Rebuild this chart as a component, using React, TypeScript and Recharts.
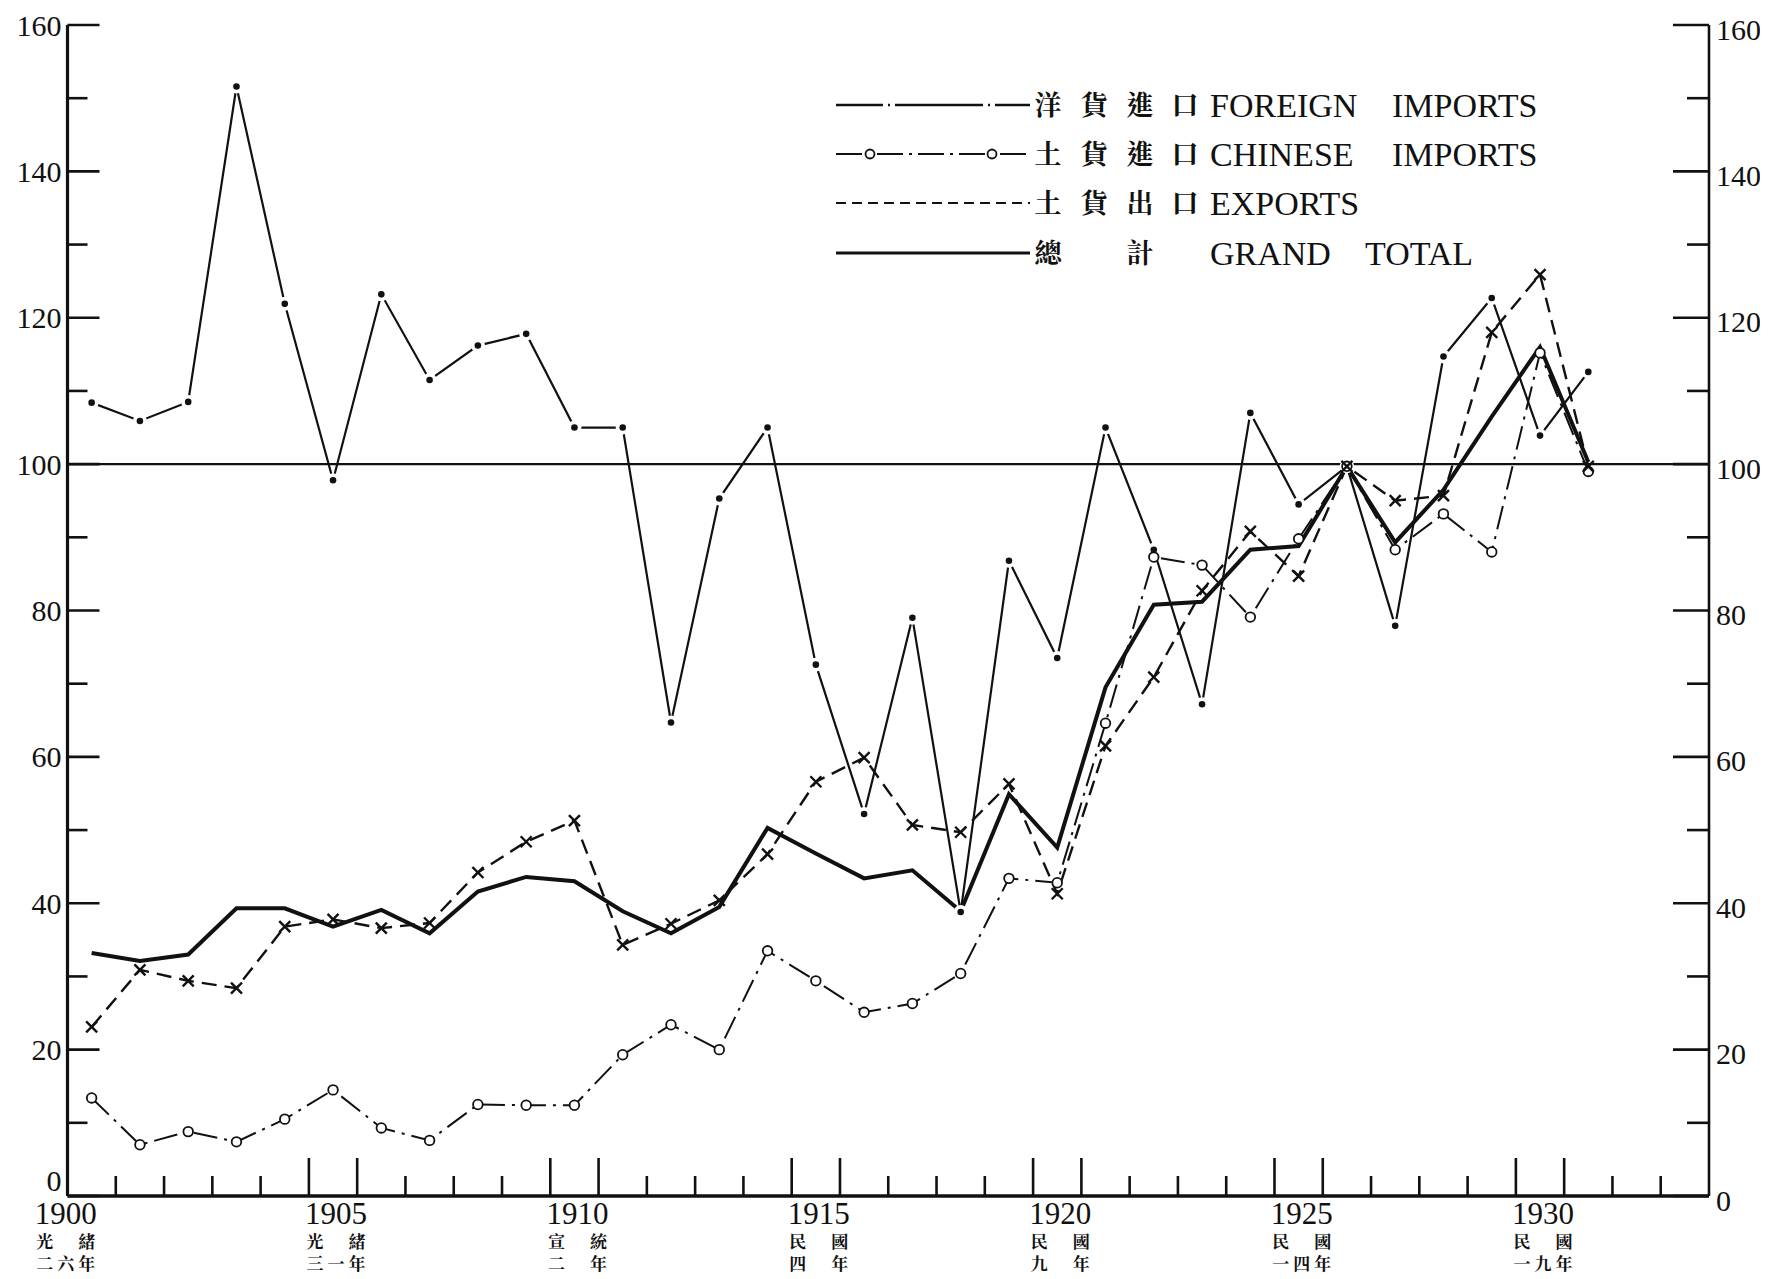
import React from 'react';
import { LineChart, Line, XAxis, YAxis, ReferenceLine, Legend } from 'recharts';

const years = [1900, 1901, 1902, 1903, 1904, 1905, 1906, 1907, 1908, 1909, 1910, 1911, 1912, 1913, 1914, 1915, 1916, 1917, 1918, 1919, 1920, 1921, 1922, 1923, 1924, 1925, 1926, 1927, 1928, 1929, 1930, 1931];
const foreignImports = [108.4, 105.9, 108.5, 151.6, 121.9, 97.8, 123.2, 111.5, 116.2, 117.8, 105.0, 105.0, 64.7, 95.3, 105.0, 72.6, 52.2, 79.0, 38.8, 86.8, 73.5, 105.0, 88.3, 67.2, 107.0, 94.5, 99.7, 77.9, 114.7, 122.7, 103.9, 112.6];
const chineseImports = [13.4, 7.0, 8.8, 7.4, 10.5, 14.5, 9.3, 7.6, 12.5, 12.4, 12.4, 19.3, 23.4, 20.0, 33.5, 29.4, 25.1, 26.3, 30.4, 43.4, 42.8, 64.6, 87.3, 86.2, 79.1, 89.8, 99.7, 88.3, 93.2, 88.0, 115.2, 99.0];
const chineseExports = [23.1, 30.9, 29.4, 28.4, 36.8, 37.8, 36.6, 37.3, 44.2, 48.4, 51.3, 34.3, 37.2, 40.4, 46.7, 56.6, 59.9, 50.7, 49.7, 56.3, 41.3, 61.5, 70.9, 82.7, 90.8, 84.7, 99.7, 95.0, 95.7, 118.0, 125.9, 99.7];
const grandTotal = [33.2, 32.1, 33.0, 39.3, 39.3, 36.8, 39.1, 35.9, 41.6, 43.6, 43.0, 38.9, 35.9, 39.5, 50.3, 46.8, 43.4, 44.5, 38.9, 54.9, 47.6, 69.5, 80.8, 81.2, 88.3, 88.8, 99.7, 89.3, 96.5, 106.5, 116.0, 100.3];

const boundaryTicks = [1900.5, 1901.5, 1902.5, 1903.5, 1904.5, 1905.5, 1906.5, 1907.5, 1908.5, 1909.5, 1910.5, 1911.5, 1912.5, 1913.5, 1914.5, 1915.5, 1916.5, 1917.5, 1918.5, 1919.5, 1920.5, 1921.5, 1922.5, 1923.5, 1924.5, 1925.5, 1926.5, 1927.5, 1928.5, 1929.5, 1930.5, 1931.5, 1932.5];
const majorBoundaries = [1904.5, 1905.5, 1909.5, 1910.5, 1914.5, 1915.5, 1919.5, 1920.5, 1924.5, 1925.5, 1929.5, 1930.5];
const labelYears = [1900, 1905, 1910, 1915, 1920, 1925, 1930];
const reignNames = ['光緒', '光緒', '宣統', '民國', '民國', '民國', '民國'];
const reignYears = ['二六年', '三一年', '二年', '四年', '九年', '一四年', '一九年'];
const yTicks = [0, 10, 20, 30, 40, 50, 60, 70, 80, 90, 100, 110, 120, 130, 140, 150, 160];

const legendCn = [['洋', '貨', '進', '口'], ['土', '貨', '進', '口'], ['土', '貨', '出', '口'], ['總', '', '計', '']];
const legendEn = [['FOREIGN', 'IMPORTS'], ['CHINESE', 'IMPORTS'], ['EXPORTS', ''], ['GRAND', 'TOTAL']];

const data = years.map((year, i) => ({
  year,
  fi: foreignImports[i],
  ci: chineseImports[i],
  ex: chineseExports[i],
  gt: grandTotal[i],
}));

const SERIF = "'Liberation Serif', 'Tinos', 'Times New Roman', serif";
const CJK = "'Noto Serif CJK TC', 'Noto Sans CJK TC', serif";
const INK = '#111';

const serifStyle: React.CSSProperties = { fontFamily: SERIF };
const cjkStyle: React.CSSProperties = { fontFamily: CJK, fontWeight: 700 };

const W = 1752;
const H = 1271;

const BottomTick = (props: any) => {
  const { x, y, payload } = props;
  const v = payload.value;
  const li = labelYears.indexOf(v);
  if (li >= 0) {
    const cx = li === 0 ? x - 26 : x + 3;
    const r1 = reignNames[li].split('');
    const r2 = reignYears[li].split('');
    const off2 = r2.length === 3 ? [-21, 0, 21] : [-21, 21];
    return (
      <g>
        <text x={cx} y={y + 28} textAnchor="middle" style={serifStyle} fontSize={31} fill={INK}>{v}</text>
        {r1.map((c, i) => (
          <text key={'a' + i} x={cx + (i === 0 ? -21 : 21)} y={y + 52} textAnchor="middle" style={cjkStyle} fontSize={17} fill={INK}>{c}</text>
        ))}
        {r2.map((c, i) => (
          <text key={'b' + i} x={cx + off2[i]} y={y + 74} textAnchor="middle" style={cjkStyle} fontSize={17} fill={INK}>{c}</text>
        ))}
      </g>
    );
  }
  const len = majorBoundaries.indexOf(v) >= 0 ? 38 : 20;
  return <line x1={x} x2={x} y1={y} y2={y - len} stroke={INK} strokeWidth={2.6} />;
};

const TopTick = (props: any) => {
  const { x, y, payload } = props;
  const len = majorBoundaries.indexOf(payload.value) >= 0 ? 45 : 24;
  return <line x1={x} x2={x} y1={y} y2={y + len} stroke={INK} strokeWidth={2.6} />;
};

const LeftTick = (props: any) => {
  const { x, y, payload } = props;
  const v = payload.value;
  const major = v % 20 === 0;
  return (
    <g>
      <line x1={x} x2={x + (major ? 32 : 20)} y1={y} y2={y} stroke={INK} strokeWidth={2.6} />
      {major && (
        <text x={x - 6} y={y + (v === 0 ? -16 : 0)} dy="0.35em" textAnchor="end" style={serifStyle} fontSize={30} fill={INK}>{v}</text>
      )}
    </g>
  );
};

const RightTick = (props: any) => {
  const { x, y, payload } = props;
  const v = payload.value;
  const major = v % 20 === 0;
  return (
    <g>
      <line x1={x} x2={x - (major ? 36 : 22)} y1={y} y2={y} stroke={INK} strokeWidth={2.6} />
      {major && (
        <text x={x + 7} y={y + 4} dy="0.35em" textAnchor="start" style={serifStyle} fontSize={30} fill={INK}>{v}</text>
      )}
    </g>
  );
};

const fiDot = (props: any) => {
  const { cx, cy, index } = props;
  if (cx == null || cy == null) return <g key={'fi' + index} />;
  return (
    <g key={'fi' + index}>
      <circle cx={cx} cy={cy} r={7} fill="#fff" />
      <circle cx={cx} cy={cy} r={3.3} fill={INK} />
    </g>
  );
};

const ciDot = (props: any) => {
  const { cx, cy, index } = props;
  if (cx == null || cy == null) return <g key={'ci' + index} />;
  return <circle key={'ci' + index} cx={cx} cy={cy} r={4.8} fill="#fff" stroke={INK} strokeWidth={1.8} />;
};

const exDot = (props: any) => {
  const { cx, cy, index } = props;
  if (cx == null || cy == null) return <g key={'ex' + index} />;
  const s = 5.5;
  return (
    <g key={'ex' + index}>
      <line x1={cx - s} y1={cy - s} x2={cx + s} y2={cy + s} stroke={INK} strokeWidth={2.4} />
      <line x1={cx - s} y1={cy + s} x2={cx + s} y2={cy - s} stroke={INK} strokeWidth={2.4} />
    </g>
  );
};

const rowY = [97, 146, 195, 245];
const cnX = [1040, 1086, 1132, 1177];

const LegendGraphic = () => (
  <svg width={W} height={280} style={{ display: 'block' }}>
    <line x1={828} x2={1022} y1={rowY[0]} y2={rowY[0]} stroke={INK} strokeWidth={2.4} strokeDasharray="47 5 2 5 88 5 2 5 40" />
    <line x1={828} x2={1022} y1={rowY[1]} y2={rowY[1]} stroke={INK} strokeWidth={2} strokeDasharray="26 6 3 6" />
    <circle cx={862} cy={rowY[1]} r={4.5} fill="#fff" stroke={INK} strokeWidth={1.8} />
    <circle cx={984} cy={rowY[1]} r={4.5} fill="#fff" stroke={INK} strokeWidth={1.8} />
    <line x1={828} x2={1022} y1={rowY[2]} y2={rowY[2]} stroke={INK} strokeWidth={2.2} strokeDasharray="10 6" />
    <line x1={828} x2={1022} y1={rowY[3]} y2={rowY[3]} stroke={INK} strokeWidth={3.2} />
    {legendCn.map((row, r) =>
      row.map((c, i) =>
        c ? (
          <text key={'cn' + r + i} x={cnX[i]} y={rowY[r]} dy="0.36em" textAnchor="middle" style={cjkStyle} fontSize={27} fill={INK}>{c}</text>
        ) : null
      )
    )}
    {legendEn.map((row, r) => (
      <g key={'en' + r}>
        <text x={1202} y={rowY[r]} dy="0.35em" style={serifStyle} fontSize={34} fill={INK}>{row[0]}</text>
        {row[1] && (
          <text x={r === 3 ? 1357 : 1384} y={rowY[r]} dy="0.35em" style={serifStyle} fontSize={34} fill={INK}>{row[1]}</text>
        )}
      </g>
    ))}
  </svg>
);

export default function App() {
  return (
    <div style={{ width: W, height: H, background: '#fff' }}>
      <LineChart width={W} height={H} data={data} margin={{ top: 17, right: 0, bottom: 0, left: 0 }}>
        <XAxis
          dataKey="year"
          type="number"
          domain={[1899.5, 1933.5]}
          allowDataOverflow
          ticks={[...boundaryTicks, ...labelYears]}
          interval={0}
          tickSize={0}
          tickMargin={0}
          tickLine={false}
          height={83}
          axisLine={{ stroke: INK, strokeWidth: 3.4 }}
          tick={BottomTick}
        />
        <XAxis
          xAxisId="top"
          orientation="top"
          dataKey="year"
          type="number"
          domain={[1899.5, 1933.5]}
          allowDataOverflow
          ticks={boundaryTicks}
          interval={0}
          tickSize={0}
          tickMargin={0}
          tickLine={false}
          height={0}
          axisLine={{ stroke: INK, strokeWidth: 3 }}
          tick={TopTick}
        />
        <YAxis
          type="number"
          domain={[0, 160]}
          allowDataOverflow
          ticks={yTicks}
          interval={0}
          tickSize={0}
          tickMargin={0}
          tickLine={false}
          width={59.5}
          axisLine={{ stroke: INK, strokeWidth: 3.2 }}
          tick={LeftTick}
        />
        <YAxis
          yAxisId="right"
          orientation="right"
          type="number"
          domain={[0, 160]}
          allowDataOverflow
          ticks={yTicks}
          interval={0}
          tickSize={0}
          tickMargin={0}
          tickLine={false}
          width={51}
          axisLine={{ stroke: INK, strokeWidth: 2.6 }}
          tick={RightTick}
        />
        <ReferenceLine y={100} stroke={INK} strokeWidth={2.4} />
        <Line type="linear" dataKey="fi" stroke={INK} strokeWidth={2.2} dot={fiDot} activeDot={false} isAnimationActive={false} />
        <Line type="linear" dataKey="ci" stroke={INK} strokeWidth={2} strokeDasharray="24 7 3 7" dot={ciDot} activeDot={false} isAnimationActive={false} />
        <Line type="linear" dataKey="ex" stroke={INK} strokeWidth={2.4} strokeDasharray="15 8" dot={exDot} activeDot={false} isAnimationActive={false} />
        <Line type="linear" dataKey="gt" stroke={INK} strokeWidth={4} dot={false} activeDot={false} isAnimationActive={false} />
        <Legend
          layout="horizontal"
          align="center"
          verticalAlign="middle"
          content={() => <LegendGraphic />}
          wrapperStyle={{ left: 0, top: 0, width: W, height: 280, pointerEvents: 'none' }}
        />
      </LineChart>
    </div>
  );
}
